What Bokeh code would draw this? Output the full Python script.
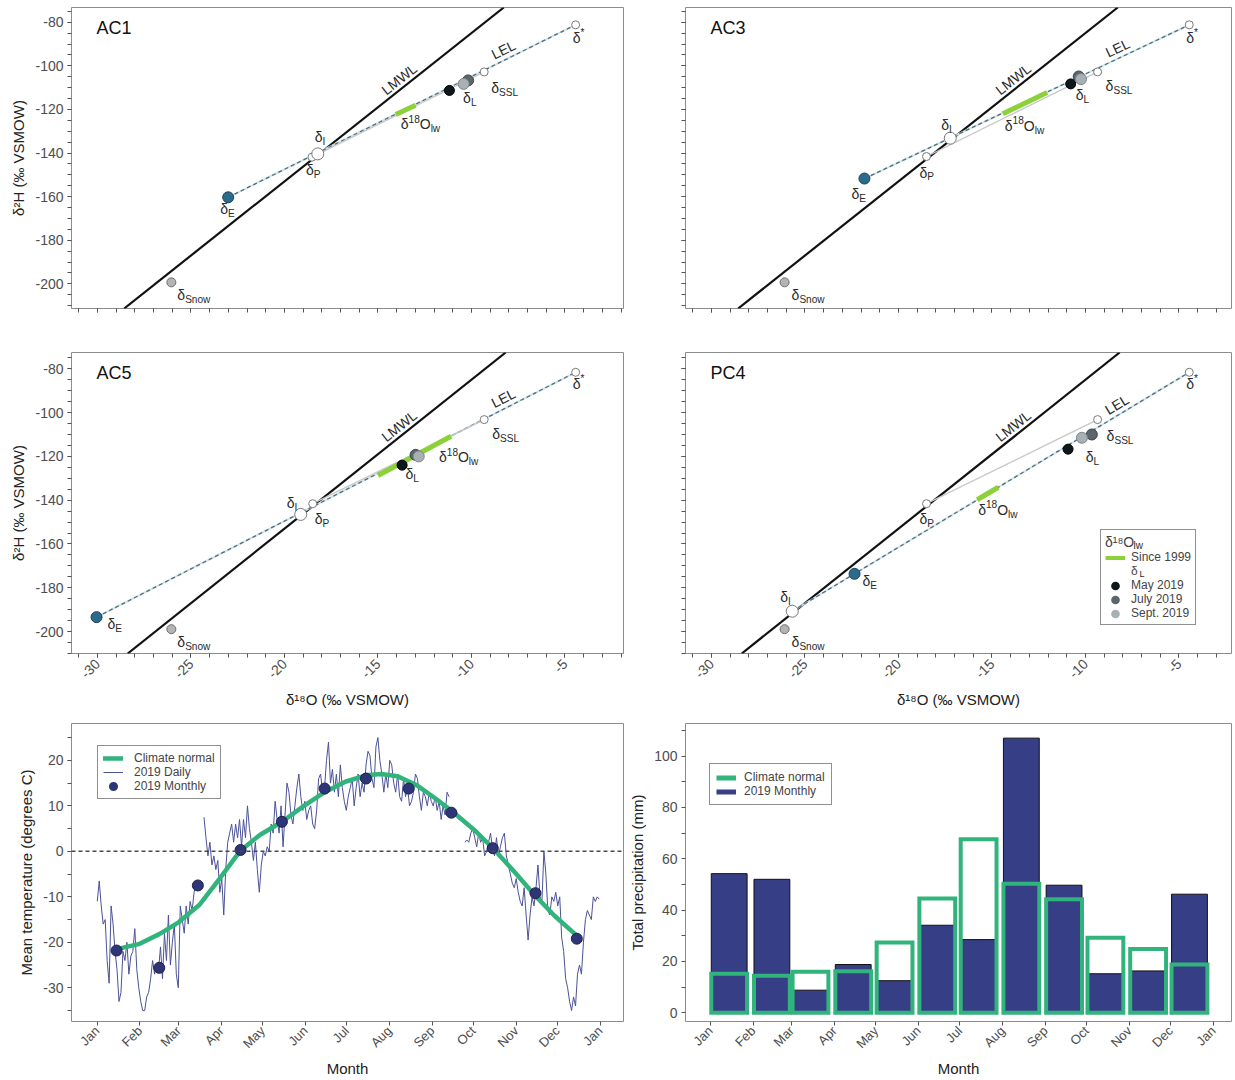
import math
from bokeh.plotting import figure
from bokeh.layouts import column, row
from bokeh.models import FixedTicker, Slope, Span, Legend, LegendItem, Range1d
from bokeh.core.properties import value
from bokeh.embed import file_html
from bokeh.resources import INLINE

FONT = "Liberation Sans"
nan = float("nan")

# ---------------------------------------------------------------- data: isotope panels
panel_names = ["AC1", "AC3", "AC5", "PC4"]
lmwl_slope = 6.8
lmwl_intercept = -17.0

star_x = [-4.43, -4.45, -4.43, -4.45]
star_y = [-81.2, -81.2, -81.6, -81.6]
ssl_x = [-9.32, -9.35, -9.32, -9.35]
ssl_y = [-102.8, -102.8, -103.2, -103.2]
p_x = [-18.53, -18.50, -18.49, -18.50]
p_y = [-141.9, -141.6, -141.6, -141.6]
snow_x = [-26.05, -26.09, -26.05, -26.09]
snow_y = [-199.3, -199.3, -198.9, -198.9]
i_x = [-18.22, -17.23, -19.13, -25.68]
i_y = [-140.4, -133.2, -146.5, -190.7]
e_x = [-23.01, -21.82, -30.05, -22.35]
e_y = [-160.3, -151.7, -193.4, -173.6]
lmay_x = [-11.18, -10.79, -13.71, -10.93]
lmay_y = [-111.3, -108.3, -124.0, -116.7]
ljul_x = [-10.18, -10.36, -12.99, -9.66]
ljul_y = [-106.7, -104.9, -119.3, -110.0]
lsep_x = [-10.42, -10.24, -12.82, -10.19]
lsep_y = [-108.3, -106.1, -120.0, -111.5]
lw_x0 = [-14.05, -14.42, -15.00, -15.79]
lw_y0 = [-122.3, -122.0, -128.7, -139.8]
lw_x1 = [-12.99, -12.05, -11.09, -14.66]
lw_y1 = [-118.1, -112.2, -110.8, -134.1]

iso_x_ticks = [-30, -25, -20, -15, -10, -5]
iso_y_ticks = [-200, -180, -160, -140, -120, -100, -80]
lmwl_label_x = -13.6
lel_label_x = -8.1

# ---------------------------------------------------------------- data: climate panels
month_names = ["Jan", "Feb", "Mar", "Apr", "May", "Jun", "Jul", "Aug", "Sep", "Oct", "Nov", "Dec"]
month_start = [0, 31, 59, 90, 120, 151, 181, 212, 243, 273, 304, 334]
year_end = 365

temp_monthly = [-21.8, -25.6, -7.5, 0.3, 6.5, 13.8, 16.0, 13.8, 8.5, 0.7, -9.2, -19.2]

normal_day = [14, 30, 45, 59, 74, 88, 104, 118, 134, 150, 165, 180,
              195, 206, 218, 232, 246, 258, 274, 288, 303, 318, 332, 349]
normal_temp = [-21.5, -20.4, -18.2, -15.6, -11.8, -6.3, 0.2, 3.6, 6.5, 10.0, 13.0, 15.3,
               16.7, 17.0, 16.5, 14.5, 11.5, 8.7, 4.6, 0.4, -4.6, -9.8, -14.2, -18.8]

daily_temp = [
    # Jan
    -11, -6.5, -12, -16, -15, -24, -29, -12, -16, -22, -26, -33, -31, -22, -24, -20, -27, -23, -22, -17, -26, -30,
    # Feb
    -33, -35, -35, -32, -31, -28, -24, -27, -25, -26, -21, -28, -18, -24, -14, -25, -20, -16, -27, -30,
    # Mar
    -12, -15, -18, -12, -16, -11, -13, -9, -7, -8, nan, nan, 7.5, 3, -1, 2, -3, -1, -4, -2, -9,
    # Apr
    -6, -14, -4, 2, 4, 6, 2, 6, 3, 7, 1, 7, 3, 10, 5, 2, -2, 2, -4, -9, -3,
    # May
    0, -1, 1, 0, 6, 4, 11, 7, 4, 10, 1, 8, 15, 13, 8, 6, 10, 14, 17, 12, 9, 11,
    # Jun
    7, 9, 10, 6, 5, 9, 16, 17, 13, 14, 20, 24, 15, 18, 13, 17, 12, 19, 14, 11, 9,
    # Jul
    12, 14, 16, 10, 14, 17, 12, 15, 13, 19, 22, 21, 16, 14, 23, 25, 20, 17, 13, 17, 14,
    # Aug
    20, 19, 15, 13, 17, 12, 11, 16, 12, 14, 10, 11, 13, 17, 16, 12, 9, 13, 12, 10, 13, 11,
    # Sep
    10, 12, 9, 11, 7, 10, 8, 13, 12, nan, nan, nan, nan, nan, nan, nan, 2, 2.5, 2, 4, 5,
    # Oct
    3, 1, 4, 2, 3, -1, 0, 2, 4, 0.5, -1, 3, -1, 1, 3, 4, -1, -3, -5, -7, -8, -6,
    # Nov
    -9, -11, -12, -8, -14, -19.5, -14, -10, -12, -8, -3, -10, -11, 0, -5, -13, -14, -10, -11, -9,
    # Dec
    -12, -10, -19, -22, -28, -30, -33, -35, -32, -34, -27, -25, -27, -20, -15, -13, -14, -15, -10, -11, -10, -10.5,
]
daily_last_day = 364.3

precip_2019 = [54.2, 52.0, 8.8, 18.8, 12.5, 34.1, 28.5, 107.0, 49.7, 15.2, 16.3, 46.2]
precip_normal = [15.2, 14.4, 16.0, 16.2, 27.4, 44.5, 67.6, 50.3, 44.2, 29.2, 24.8, 18.8]

temp_y_ticks = [-30, -20, -10, 0, 10, 20]
precip_y_ticks = [0, 20, 40, 60, 80, 100]

# ---------------------------------------------------------------- layout / style constants
FW = [552, 546]                  # frame width, left / right column
BL = [71, 60]                    # left border, left / right column
BR = 2
ROWS = [(7, 301, 22), (22, 301, 58), (12, 298, 55)]   # (top border, frame height, bottom border)
ISO_X = [(-31.39, -1.87), (-31.39, -2.19)]
ISO_Y = [(-211.3, -73.26), (-210.0, -72.56)]
MON_X = [(-18.7, 381.9), (-18.1, 378.1)]
TEMP_Y = (-37.4, 28.1)
PREC_Y = (-3.4, 112.7)

C_LMWL = "#111111"
C_LEL = "#4f6e7d"
C_LEL_LIGHT = "#cfe4e9"
C_PSSL = "#c8c8c8"
C_LW = "#8cd03a"
C_E = "#2b6c8c"
C_MAY = "#0e171c"
C_JUL = "#5b676d"
C_SEP = "#a8b0b4"
C_SNOW = "#b4b4b4"
C_OPEN = "#7a7a7a"
C_TXT = "#2a2a2a"
C_NAVY = "#363e86"
C_GREEN = "#31b37c"

LABEL_POS = {
    "AC1": dict(star=(-3, 13), ssl=(7, 16), L=(-5, 18), lw=(5, 10), I=(-3, -17), P=(-6, 13), E=(-8, 12), snow=(6, 13)),
    "AC3": dict(star=(-3, 13), ssl=(8, 14), L=(-3, 19), lw=(2, 12), I=(-9, -13), P=(-7, 16), E=(-13, 15), snow=(7, 13)),
    "AC5": dict(star=(-3, 12), ssl=(8, 14), L=(-10, 19), lw=(61, -18), I=(-14, -11), P=(2, 15), E=(11, 7), snow=(6, 13)),
    "PC4": dict(star=(-3, 12), ssl=(9, 16), L=(-6, 23), lw=(1, 10), I=(-12, -14), P=(-7, 15), E=(8, 7), snow=(7, 13)),
}

AW = {"δ": 0.556, "*": 0.389, "S": 0.667, "L": 0.556, "I": 0.278, "P": 0.667, "E": 0.667,
      "n": 0.556, "o": 0.556, "w": 0.722, "l": 0.222, "1": 0.556, "8": 0.556, "O": 0.778}


def twidth(s, size):
    return sum(AW.get(c, 0.556) for c in s) * size


def iso_label(p, x, y, parts, dx, dy, size=14):
    cur = dx
    for txt, kind in parts:
        if kind == "n":
            fs, oy = size, 0
        elif kind == "sub":
            fs, oy = size * 0.72, size * 0.32
        else:
            fs, oy = size * 0.72, -size * 0.38
        p.text(x=[x], y=[y], text=[txt], x_offset=cur, y_offset=dy + oy,
               text_font=value(FONT), text_font_size=f"{fs:.1f}px",
               text_align="left", text_baseline="middle", text_color=C_TXT)
        cur += twidth(txt, fs)


def base_style(p):
    p.xgrid.visible = False
    p.ygrid.visible = False
    p.outline_line_color = "#8c8c8c"
    p.outline_line_width = 1
    p.background_fill_color = "white"
    p.border_fill_color = "white"
    for ax in list(p.xaxis) + list(p.yaxis):
        ax.axis_line_color = None
        ax.major_tick_line_color = "#555555"
        ax.minor_tick_line_color = "#555555"
        ax.major_tick_out = 4
        ax.major_tick_in = 0
        ax.minor_tick_out = 4
        ax.minor_tick_in = 0
        ax.major_label_text_font = FONT
        ax.major_label_text_font_size = "14px"
        ax.major_label_text_color = "#4d4d4d"
        ax.axis_label_text_font = FONT
        ax.axis_label_text_font_size = "15px"
        ax.axis_label_text_font_style = "normal"
        ax.axis_label_text_color = "#222222"
        ax.major_label_standoff = 4
        ax.axis_label_standoff = 5


def make_fig(col, rowi, xr, yr):
    bt, fh, bb = ROWS[rowi]
    p = figure(frame_width=FW[col], frame_height=fh, x_range=Range1d(*xr), y_range=Range1d(*yr),
               output_backend="svg", toolbar_location=None,
               min_border_left=BL[col], min_border_right=BR,
               min_border_top=bt, min_border_bottom=bb)
    base_style(p)
    return p


def corner_text(p, x, y, txt, dx, dy, size):
    p.text(x=[x], y=[y], text=[txt], x_offset=dx, y_offset=dy,
           text_align="left", text_baseline="middle",
           text_font=value(FONT), text_font_size=size, text_color=C_TXT)


def iso_panel(k, col, rowi):
    name = panel_names[k]
    xr, yr = ISO_X[col], ISO_Y[rowi]
    p = make_fig(col, rowi, xr, yr)
    fh = ROWS[rowi][1]
    p.xaxis.ticker = FixedTicker(ticks=iso_x_ticks, minor_ticks=list(range(-31, -1)))
    p.yaxis.ticker = FixedTicker(ticks=iso_y_ticks, minor_ticks=list(range(-210, -74, 5)))
    if rowi == 0:
        p.xaxis.major_label_overrides = {t: "" for t in iso_x_ticks}
    else:
        p.xaxis.major_label_overrides = {t: str(t) for t in iso_x_ticks}
        p.xaxis.axis_label = "δ¹⁸O (‰ VSMOW)"
        p.xaxis.major_label_orientation = math.pi / 4
    if col == 0:
        p.yaxis.axis_label = "δ²H (‰ VSMOW)"
        p.yaxis.major_label_overrides = {t: str(t) for t in iso_y_ticks}
    else:
        p.yaxis.major_label_overrides = {t: "" for t in iso_y_ticks}

    pxu = FW[col] / (xr[1] - xr[0])
    pyu = fh / (yr[1] - yr[0])

    p.add_layout(Slope(gradient=lmwl_slope, y_intercept=lmwl_intercept,
                       line_color=C_LMWL, line_width=2.2, level="underlay"))

    if e_x[k] < i_x[k]:
        sx, sy = e_x[k], e_y[k]
    else:
        sx, sy = i_x[k], i_y[k]
    p.line([sx, star_x[k]], [sy, star_y[k]], line_color=C_LEL_LIGHT, line_width=2)
    p.line([sx, star_x[k]], [sy, star_y[k]], line_color=C_LEL, line_width=1.3, line_dash="4 3")
    p.line([p_x[k], ssl_x[k]], [p_y[k], ssl_y[k]], line_color=C_PSSL, line_width=1.3)
    p.line([lw_x0[k], lw_x1[k]], [lw_y0[k], lw_y1[k]], line_color=C_LW, line_width=5)

    p.scatter([snow_x[k]], [snow_y[k]], size=9, fill_color=C_SNOW, line_color="#6f6f6f")
    p.scatter([e_x[k]], [e_y[k]], size=11, fill_color=C_E, line_color="#1d3f52")
    p.scatter([p_x[k]], [p_y[k]], size=8, fill_color="white", line_color=C_OPEN)
    p.scatter([i_x[k]], [i_y[k]], size=12, fill_color="white", line_color=C_OPEN)
    p.scatter([ssl_x[k]], [ssl_y[k]], size=8, fill_color="white", line_color=C_OPEN)
    p.scatter([star_x[k]], [star_y[k]], size=8, fill_color="white", line_color=C_OPEN)
    p.scatter([lmay_x[k]], [lmay_y[k]], size=10, fill_color=C_MAY, line_color="#000000")
    p.scatter([ljul_x[k]], [ljul_y[k]], size=11, fill_color=C_JUL, line_color="#3a4448")
    p.scatter([lsep_x[k]], [lsep_y[k]], size=11, fill_color=C_SEP, line_color="#7d878c")

    pos = LABEL_POS[name]
    iso_label(p, star_x[k], star_y[k], [("δ", "n"), ("*", "sup")], *pos["star"])
    iso_label(p, ssl_x[k], ssl_y[k], [("δ", "n"), ("SSL", "sub")], *pos["ssl"])
    iso_label(p, ljul_x[k], ljul_y[k], [("δ", "n"), ("L", "sub")], *pos["L"])
    iso_label(p, lw_x0[k], lw_y0[k], [("δ", "n"), ("18", "sup"), ("O", "n"), ("lw", "sub")], *pos["lw"])
    iso_label(p, i_x[k], i_y[k], [("δ", "n"), ("I", "sub")], *pos["I"])
    iso_label(p, p_x[k], p_y[k], [("δ", "n"), ("P", "sub")], *pos["P"])
    iso_label(p, e_x[k], e_y[k], [("δ", "n"), ("E", "sub")], *pos["E"])
    iso_label(p, snow_x[k], snow_y[k], [("δ", "n"), ("Snow", "sub")], *pos["snow"])

    ang_m = math.atan(lmwl_slope * pyu / pxu)
    p.text(x=[lmwl_label_x], y=[lmwl_slope * lmwl_label_x + lmwl_intercept], text=["LMWL"],
           angle=ang_m, text_align="center", text_baseline="bottom", y_offset=-1,
           text_font=value(FONT), text_font_size="14px", text_color=C_TXT)
    lel_slope = (star_y[k] - sy) / (star_x[k] - sx)
    ang_l = math.atan(lel_slope * pyu / pxu)
    p.text(x=[lel_label_x], y=[sy + lel_slope * (lel_label_x - sx)], text=["LEL"],
           angle=ang_l, text_align="center", text_baseline="bottom", y_offset=-2,
           text_font=value(FONT), text_font_size="14px", text_color=C_TXT)

    p.text(x=[xr[0]], y=[yr[1]], text=[name], x_offset=25, y_offset=20,
           text_align="left", text_baseline="middle",
           text_font=value(FONT), text_font_size="18px", text_color="#111111")

    if name == "PC4":
        hdr = p.scatter(x=[nan], y=[nan], size=1, fill_alpha=0, line_alpha=0)
        lg_lw = p.line(x=[nan, nan], y=[nan, nan], line_color=C_LW, line_width=4)
        lg_may = p.scatter(x=[nan], y=[nan], fill_color=C_MAY, line_color=C_MAY, line_width=3.5)
        lg_jul = p.scatter(x=[nan], y=[nan], fill_color=C_JUL, line_color=C_JUL, line_width=3.5)
        lg_sep = p.scatter(x=[nan], y=[nan], fill_color=C_SEP, line_color=C_SEP, line_width=3.5)
        leg = Legend(items=[LegendItem(label="Since 1999", renderers=[lg_lw]),
                            LegendItem(label="δ", renderers=[hdr]),
                            LegendItem(label="May 2019", renderers=[lg_may]),
                            LegendItem(label="July 2019", renderers=[lg_jul]),
                            LegendItem(label="Sept. 2019", renderers=[lg_sep])],
                     title="δ¹⁸O", location=(415, 28))
        leg.title_text_font = FONT
        leg.title_text_font_size = "14px"
        leg.title_text_font_style = "normal"
        leg.title_standoff = 0
        leg.label_text_font = FONT
        leg.label_text_font_size = "12px"
        leg.label_height = 13
        leg.glyph_height = 13
        leg.glyph_width = 20
        leg.spacing = 0
        leg.padding = 4
        leg.margin = 0
        leg.label_standoff = 6
        leg.border_line_color = "#222222"
        leg.border_line_width = 1.2
        leg.background_fill_alpha = 0
        p.add_layout(leg)
        # subscripts of the legend headers (visible through the transparent legend)
        corner_text(p, xr[0], yr[0], "lw", 448, -108, "10px")
        corner_text(p, xr[0], yr[0], "L", 454, -80, "9px")
    return p


def month_axis(p):
    ticks = month_start + [year_end]
    p.xaxis.ticker = FixedTicker(ticks=ticks, minor_ticks=[])
    p.xaxis.major_label_overrides = {t: n for t, n in zip(ticks, month_names + ["Jan"])}
    p.xaxis.major_label_orientation = math.pi / 4
    p.xaxis.axis_label = "Month"
    for ax in p.xaxis:
        ax.major_label_text_font_size = "13px"
        ax.axis_label_standoff = 1
        ax.major_label_standoff = 3


def temp_panel():
    p = make_fig(0, 2, MON_X[0], TEMP_Y)
    month_axis(p)
    p.yaxis.ticker = FixedTicker(ticks=temp_y_ticks, minor_ticks=list(range(-35, 26, 5)))
    p.yaxis.major_label_overrides = {t: str(t) for t in temp_y_ticks}
    p.yaxis.axis_label = "Mean temperature (degrees C)"
    p.add_layout(Span(location=0, dimension="width", line_color="#4a4a4a",
                      line_width=1.5, line_dash="4 3"))
    n = len(daily_temp)
    days = [daily_last_day * i / (n - 1) for i in range(n)]
    daily_r = p.line(days, daily_temp, line_color="#4b5296", line_width=1)
    normal_r = p.line(normal_day, normal_temp, line_color=C_GREEN, line_width=4.5,
                      line_join="round", line_cap="round")
    mids = [s + 14 for s in month_start]
    p.scatter(mids, temp_monthly, size=11, fill_color="#2f3677", line_color="#1b1f4a")
    lg_dot = p.scatter(x=[nan], y=[nan], fill_color="#2f3677", line_color="#2f3677", line_width=3.5)
    leg = Legend(items=[LegendItem(label="Climate normal", renderers=[normal_r]),
                        LegendItem(label="2019 Daily", renderers=[daily_r]),
                        LegendItem(label="2019 Monthly", renderers=[lg_dot])],
                 location=(26, 222))
    leg.label_text_font = FONT
    leg.label_text_font_size = "12px"
    leg.label_height = 14
    leg.glyph_height = 14
    leg.glyph_width = 20
    leg.spacing = 0
    leg.padding = 5
    leg.margin = 0
    leg.label_standoff = 11
    leg.border_line_color = "#222222"
    leg.border_line_width = 1.2
    p.add_layout(leg)
    return p


def precip_panel():
    p = make_fig(1, 2, MON_X[1], PREC_Y)
    month_axis(p)
    p.yaxis.ticker = FixedTicker(ticks=precip_y_ticks, minor_ticks=[10, 30, 50, 70, 90, 110])
    p.yaxis.axis_label = "Total precipitation (mm)"
    lefts = [s + 0.6 for s in month_start]
    rights = [s + 26.6 for s in month_start]
    p.quad(left=lefts, right=rights, bottom=0, top=precip_2019,
           fill_color=C_NAVY, line_color="#111111", line_width=1)
    p.quad(left=lefts, right=rights, bottom=0, top=precip_normal,
           fill_color=None, line_color=C_GREEN, line_width=4, line_join="miter")
    g_r = p.line(x=[nan, nan], y=[nan, nan], line_color=C_GREEN, line_width=5)
    n_r = p.line(x=[nan, nan], y=[nan, nan], line_color=C_NAVY, line_width=5)
    leg = Legend(items=[LegendItem(label="Climate normal", renderers=[g_r]),
                        LegendItem(label="2019 Monthly", renderers=[n_r])],
                 location=(24, 216))
    leg.label_text_font = FONT
    leg.label_text_font_size = "12px"
    leg.label_height = 13
    leg.glyph_height = 13
    leg.glyph_width = 20
    leg.spacing = 0
    leg.padding = 6
    leg.margin = 0
    leg.label_standoff = 8
    leg.border_line_color = "#222222"
    leg.border_line_width = 1.2
    p.add_layout(leg)
    return p


f1 = iso_panel(0, 0, 0)
f2 = iso_panel(1, 1, 0)
f3 = iso_panel(2, 0, 1)
f4 = iso_panel(3, 1, 1)
f5 = temp_panel()
f6 = precip_panel()

layout = column(row(f1, f2, spacing=0), row(f3, f4, spacing=0), row(f5, f6, spacing=0), spacing=0)

with open("out.html", "w") as fh:
    fh.write(file_html(layout, INLINE))
